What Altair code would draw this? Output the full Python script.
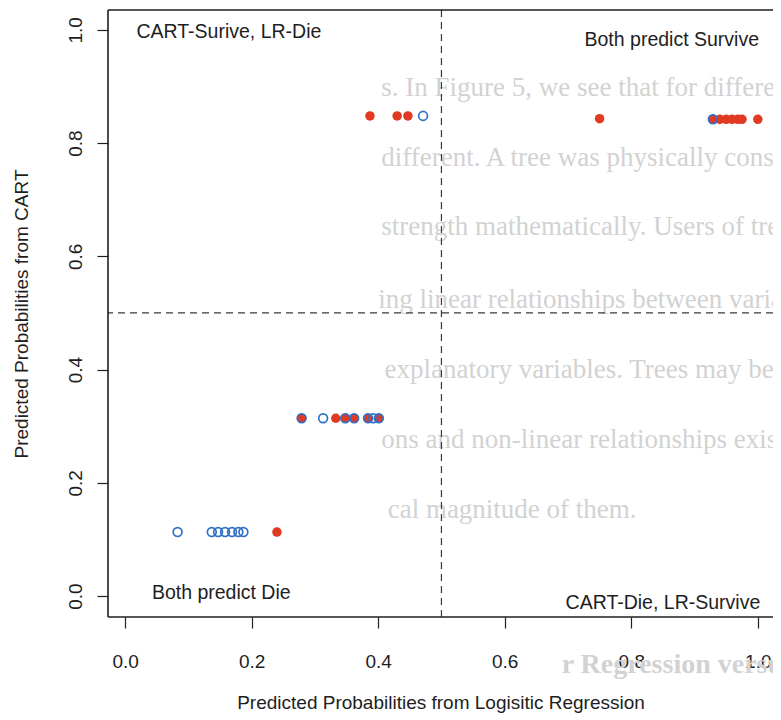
import altair as alt
import pandas as pd

# ---------------- data ----------------
# Passengers that died: open blue circles
died_lr = [0.083, 0.137, 0.147, 0.158, 0.169, 0.179, 0.187,
           0.279, 0.313, 0.348, 0.362, 0.384, 0.392, 0.401,
           0.471, 0.929]
died_cart = [0.113, 0.113, 0.113, 0.113, 0.113, 0.113, 0.113,
             0.314, 0.314, 0.314, 0.314, 0.314, 0.314, 0.314,
             0.848, 0.842]

# Passengers that survived: filled red circles
surv_lr = [0.240,
           0.279, 0.333, 0.348, 0.362, 0.384, 0.401,
           0.387, 0.430, 0.447,
           0.750, 0.929, 0.940, 0.950, 0.959, 0.968, 0.975, 1.000]
surv_cart = [0.113,
             0.314, 0.314, 0.314, 0.314, 0.314, 0.314,
             0.848, 0.848, 0.848,
             0.843, 0.842, 0.842, 0.842, 0.842, 0.842, 0.842, 0.842]

tick_vals = [0.0, 0.2, 0.4, 0.6, 0.8, 1.0]
cutoff = 0.5

region_text = ["CART-Surive, LR-Die", "Both predict Survive",
               "Both predict Die", "CART-Die, LR-Survive"]
region_lr = [0.164, 0.864, 0.152, 0.850]
region_cart = [0.996, 0.982, 0.005, -0.012]

# faint text of the scanned page behind the figure
page_text = ["s. In Figure 5, we see that for different levels of age, the relat",
             "different. A tree was physically constructed to display this in",
             "strength mathematically. Users of tree-based models advertise",
             "ing linear relationships between variables, and that they can c",
             "explanatory variables. Trees may be able to create predictio",
             "ons and non-linear relationships exist, but we have not learne",
             "cal magnitude of them."]
page_lr = [0.405, 0.405, 0.405, 0.400, 0.410, 0.405, 0.415]
page_cart = [0.898, 0.774, 0.652, 0.523, 0.399, 0.276, 0.152]
heading_text = ["r Regression versus Regression Tree"]
heading_lr = [0.690]
heading_cart = [-0.122]

x_title = "Predicted Probabilities from Logisitic Regression"
y_title = "Predicted Probabilities from CART"

# ---------------- chart ----------------
W, H = 665, 607
x_dom = [-0.027, 1.024]
y_dom = [-0.037, 1.035]
FONT = "Liberation Sans"
INK = "#1e1e1e"
RED = "#e23a22"
BLUE = "#3170c6"

xs = alt.Scale(domain=x_dom, nice=False, zero=False)
ys = alt.Scale(domain=y_dom, nice=False, zero=False)

x_axis = alt.Axis(values=tick_vals, format=".1f", domain=False, grid=False,
                  tickSize=11, tickWidth=1.2, tickColor=INK,
                  labelFont=FONT, labelFontSize=19, labelColor=INK,
                  labelPadding=24, labelFlush=False, labelOverlap=False,
                  title=x_title, titleFont=FONT, titleFontSize=19,
                  titleFontWeight="normal", titleColor=INK, titlePadding=22)
y_axis = alt.Axis(values=tick_vals, format=".1f", domain=False, grid=False,
                  tickSize=11, tickWidth=1.2, tickColor=INK,
                  labelFont=FONT, labelFontSize=19, labelColor=INK,
                  labelAngle=270, labelAlign="center", labelBaseline="bottom",
                  labelPadding=12, labelFlush=False, labelOverlap=False,
                  title=y_title, titleFont=FONT, titleFontSize=19,
                  titleFontWeight="normal", titleColor=INK, titlePadding=35)


def X(field="lr"):
    return alt.X(f"{field}:Q", scale=xs, axis=x_axis, title=x_title)


def Y(field="cart"):
    return alt.Y(f"{field}:Q", scale=ys, axis=y_axis, title=y_title)


bg_df = pd.DataFrame({"lr": page_lr, "cart": page_cart, "txt": page_text})
head_df = pd.DataFrame({"lr": heading_lr, "cart": heading_cart, "txt": heading_text})
died_df = pd.DataFrame({"lr": died_lr, "cart": died_cart})
surv_df = pd.DataFrame({"lr": surv_lr, "cart": surv_cart})
reg_df = pd.DataFrame({"lr": region_lr, "cart": region_cart, "txt": region_text})
vline_df = pd.DataFrame({"lr": [cutoff]})
hline_df = pd.DataFrame({"cart": [cutoff]})
vedge_df = pd.DataFrame({"lr": [x_dom[0]]})
hedge_df = pd.DataFrame({"cart": [y_dom[0], y_dom[1]]})

background = alt.Chart(bg_df).mark_text(
    align="left", baseline="middle", font="Liberation Serif",
    fontSize=27, color="#d2d2d2"
).encode(x=X(), y=Y(), text="txt:N")

heading = alt.Chart(head_df).mark_text(
    align="left", baseline="middle", font="Liberation Serif",
    fontSize=28, fontWeight="bold", color="#d2d2d2"
).encode(x=X(), y=Y(), text="txt:N")

vline = alt.Chart(vline_df).mark_rule(color="#3a3a3a", strokeWidth=1.2,
                                      strokeDash=[7, 5]).encode(x=X())
hline = alt.Chart(hline_df).mark_rule(color="#3a3a3a", strokeWidth=1.2,
                                      strokeDash=[7, 5]).encode(y=Y())

left_edge = alt.Chart(vedge_df).mark_rule(color=INK, strokeWidth=1.6).encode(x=X())
h_edges = alt.Chart(hedge_df).mark_rule(color=INK, strokeWidth=1.6).encode(y=Y())

survived = alt.Chart(surv_df).mark_circle(size=90, color=RED, opacity=1).encode(
    x=X(), y=Y())
died = alt.Chart(died_df).mark_point(shape="circle", size=78, filled=False,
                                     color=BLUE, strokeWidth=1.7, opacity=1).encode(
    x=X(), y=Y())

regions = alt.Chart(reg_df).mark_text(
    align="center", baseline="middle", font=FONT, fontSize=19.5, color=INK
).encode(x=X(), y=Y(), text="txt:N")

chart = alt.layer(
    background, heading, vline, hline, left_edge, h_edges,
    survived, died, regions
).properties(
    width=W, height=H,
    autosize=alt.AutoSizeParams(type="none"),
    padding={"left": 100, "top": 2, "right": 0, "bottom": 100},
    background="white",
).configure_view(stroke=None)

chart.save("out.html", embed_options={"renderer": "svg", "actions": False})
